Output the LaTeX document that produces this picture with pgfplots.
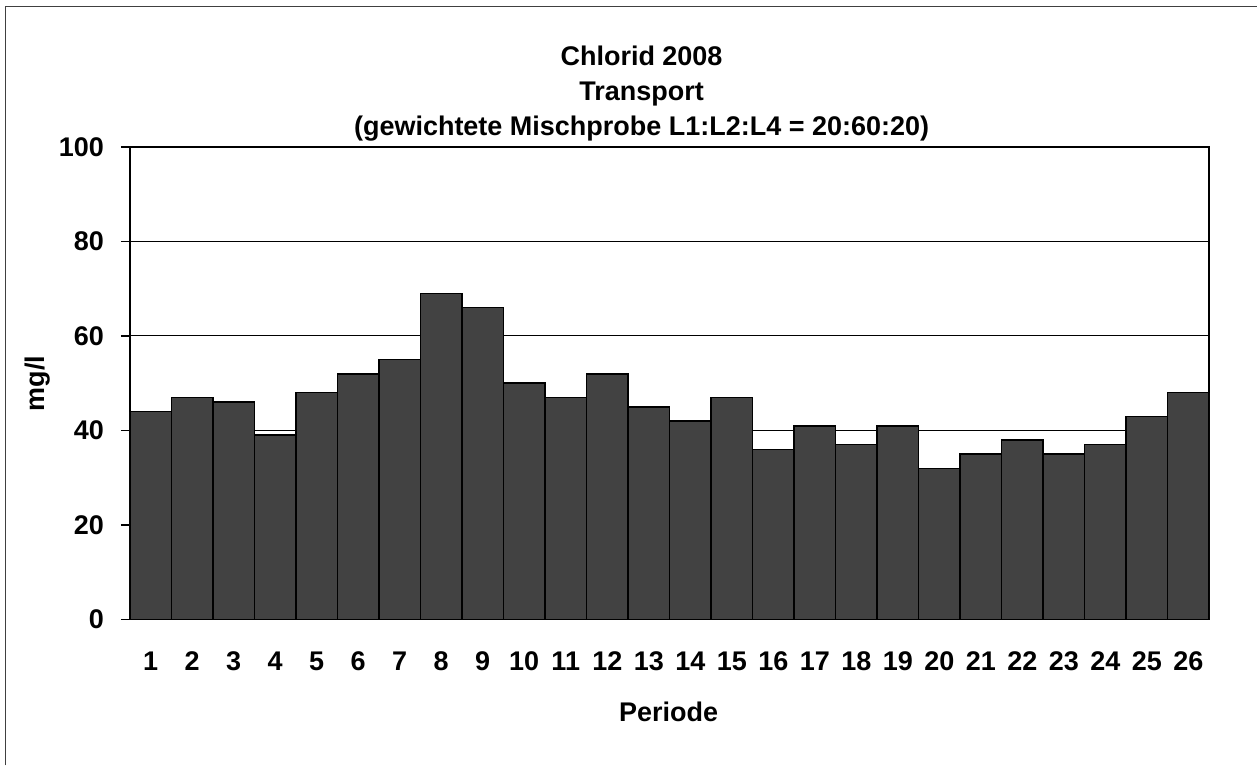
\documentclass[border=0pt]{standalone}
\usepackage{fontspec}
\setmainfont{Liberation Sans}
\usepackage{pgfplots}
\pgfplotsset{compat=1.18}
\definecolor{barfill}{RGB}{66,66,66}
\newcommand{\lbl}{\bfseries\fontsize{13.5}{16}\selectfont}

\begin{document}
\begin{tikzpicture}
\path (0pt,0pt) rectangle (629pt,383pt);
\draw[line width=0.9pt, black!75] (2.75pt,0pt) -- (2.75pt,379.75pt) -- (629pt,379.75pt);
\begin{axis}[
    at={(65pt,73pt)}, anchor=south west,
    scale only axis,
    width=540pt, height=236.5pt,
    xmin=0.5, xmax=26.5,
    ymin=0, ymax=100,
    xtick={1,...,26},
    minor xtick={0.5,1.5,...,26.5},
    ytick={0,20,...,100},
    xtick pos=bottom, ytick pos=left,
    tick align=outside,
    major tick length=4.5pt,
    minor tick length=4.5pt,
    xtick style={draw=none},
    minor x tick style={black, line width=0.75pt},
    ytick style={black, line width=0.75pt},
    ymajorgrids,
    major grid style={black, line width=0.5pt},
    axis line style={black, line width=0.75pt},
    /pgf/number format/assume math mode=true,
    tick label style={font=\lbl},
    xticklabel style={yshift=-8pt},
    yticklabel style={xshift=-5pt},
]
\addplot[ybar, bar width=1, bar shift=0pt, fill=barfill, draw=black, line width=0.75pt]
coordinates {
    (1,44) (2,47) (3,46) (4,39) (5,48) (6,52) (7,55) (8,69) (9,66)
    (10,50) (11,47) (12,52) (13,45) (14,42) (15,47) (16,36) (17,41)
    (18,37) (19,41) (20,32) (21,35) (22,38) (23,35) (24,37) (25,43) (26,48)
};
\end{axis}
\node[font=\lbl, anchor=base] at (321pt,350pt) {Chlorid 2008};
\node[font=\lbl, anchor=base] at (321pt,332.5pt) {Transport};
\node[font=\lbl, anchor=base] at (321pt,315pt) {(gewichtete Mischprobe L1:L2:L4 = 20:60:20)};
\node[font=\lbl, anchor=base] at (334.5pt,22pt) {Periode};
\node[font=\lbl, rotate=90] at (19pt,191pt) {mg/l};
\end{tikzpicture}
\end{document}
